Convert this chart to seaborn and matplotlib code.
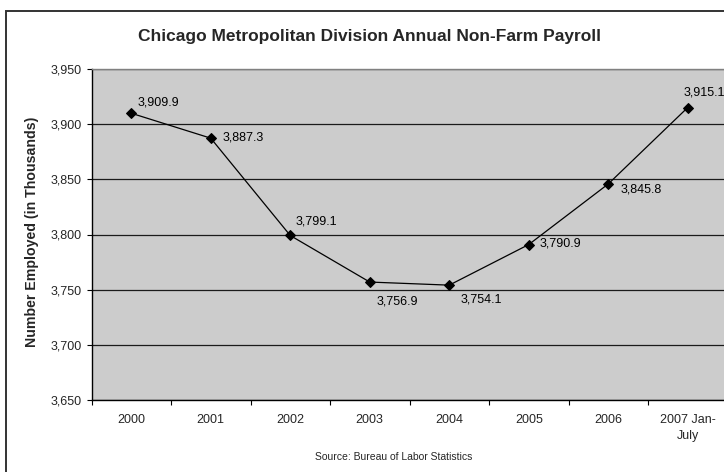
import matplotlib
matplotlib.use("Agg")
import matplotlib.pyplot as plt
from matplotlib.patches import Rectangle
from matplotlib.ticker import FuncFormatter, FixedLocator
import seaborn as sns
import pandas as pd

years = ["2000", "2001", "2002", "2003", "2004", "2005", "2006", "2007 Jan-\nJuly"]
employed = [3909.9, 3887.3, 3799.1, 3756.9, 3754.1, 3790.9, 3845.8, 3915.1]
# value-label offsets in pixels (dx to the label's left edge, dy upward)
label_offsets = [(6, 11), (12, 1), (5, 14), (7, -19), (11, -14), (11, 1), (12, -6), (-4, 15)]

sns.set_theme(style="white")
plt.rcParams["font.family"] = ["Liberation Sans", "DejaVu Sans"]

df = pd.DataFrame({"pos": range(len(years)), "value": employed})

W, H = 724, 472
fig = plt.figure(figsize=(W / 100, H / 100), dpi=100)
fig.patch.set_facecolor("white")
fig.patches.append(Rectangle((5.5 / W, -0.1), 1.2, 0.1 + (1 - 11 / H),
                             transform=fig.transFigure, fill=False,
                             edgecolor="#333333", linewidth=1.4))

ax = fig.add_axes([91.5 / W, 72 / H, 636 / W, 331 / H])
ax.set_facecolor("#CCCCCC")

sns.lineplot(data=df, x="pos", y="value", ax=ax, color="black", linewidth=0.9,
             marker="D", markersize=4.6, markeredgecolor="black")

for i, v in enumerate(employed):
    dx, dy = label_offsets[i]
    ax.annotate(f"{v:,.1f}", (i, v), xytext=(dx, dy), textcoords="offset pixels",
                ha="left", va="center", fontsize=9, color="black",
                annotation_clip=False)

ax.set_xlim(-0.5, len(years) - 0.5)
ax.set_ylim(3650, 3950)
ax.set_yticks(range(3650, 3951, 50))
ax.yaxis.set_major_formatter(FuncFormatter(lambda v, p: f"{int(v):,}"))
ax.grid(axis="y", color="#1a1a1a", linewidth=0.9)
ax.set_axisbelow(True)

ax.set_xticks(range(len(years)))
ax.set_xticklabels(years, fontsize=9, linespacing=1.5)
ax.xaxis.set_minor_locator(FixedLocator([i - 0.5 for i in range(len(years) + 1)]))
ax.tick_params(axis="x", which="major", length=0, pad=10)
ax.tick_params(axis="x", which="minor", length=3.6, width=0.8, color="black", bottom=True)
ax.tick_params(axis="y", which="major", length=3.6, width=0.8, color="black",
               labelsize=9, left=True, pad=3.5)

ax.spines["top"].set_color("#808080")
ax.spines["top"].set_linewidth(1)
ax.spines["right"].set_visible(False)
for side in ["left", "bottom"]:
    ax.spines[side].set_color("black")
    ax.spines[side].set_linewidth(1)

ax.set_xlabel("")
ax.set_ylabel("Number Employed (in Thousands)", fontsize=10.2, fontweight="bold")
ax.yaxis.label.set_va("center")
ax.yaxis.set_label_coords((32 - 91.5) / 636, (400 - 232) / 331)

fig.text(370 / W, 1 - 37 / H, "Chicago Metropolitan Division Annual Non-Farm Payroll",
         ha="center", va="center", fontsize=12.5, fontweight="bold")
fig.text(394 / W, 1 - 457 / H, "Source: Bureau of Labor Statistics",
         ha="center", va="center", fontsize=7.5)

fig.savefig("out.png", dpi=100)
